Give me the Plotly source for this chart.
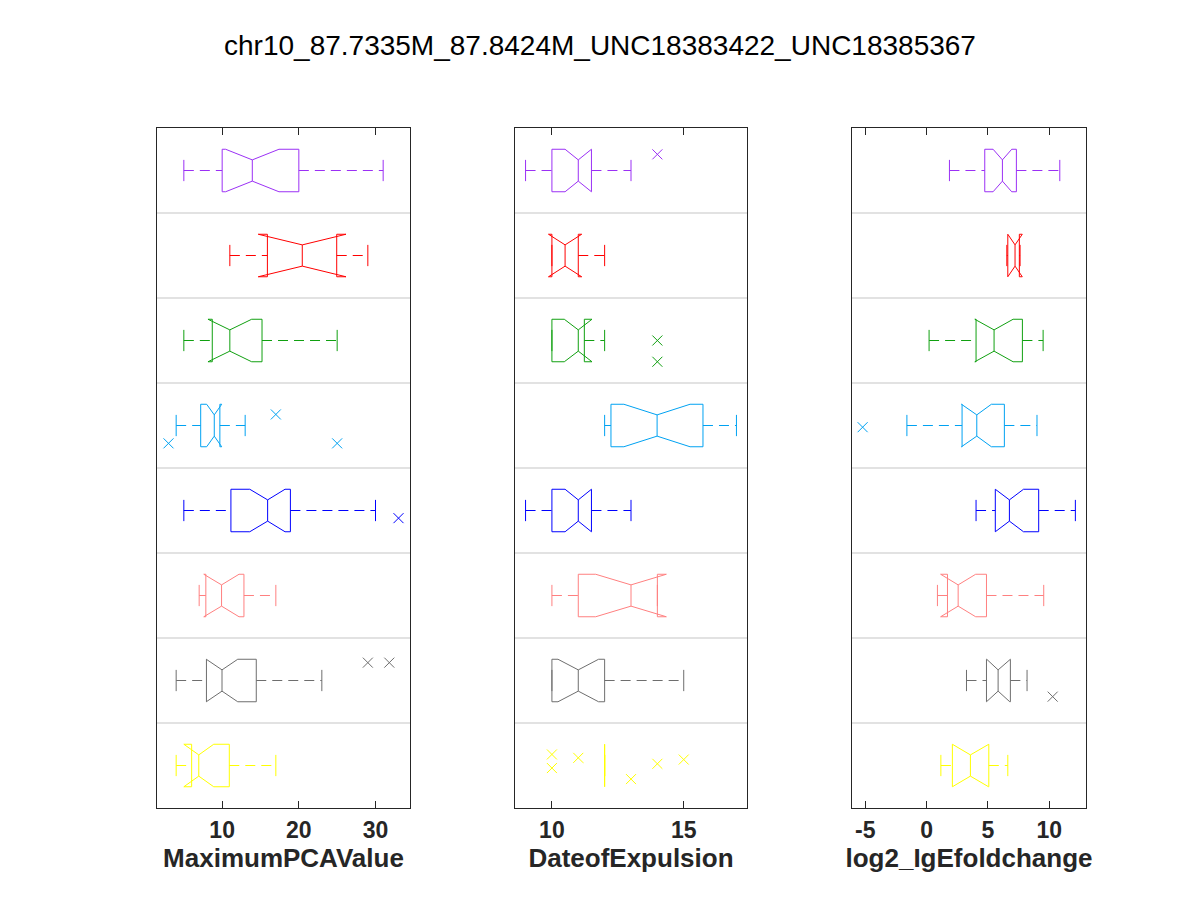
import math
import plotly.graph_objects as go

# %% data, one list per statistic, groups top to bottom
title_text = "chr10_87.7335M_87.8424M_UNC18383422_UNC18385367"
group_colors = ["#9b30f5", "#ff0000", "#10a010", "#00a2f2", "#0000ff", "#ff8080", "#6e6e6e", "#ffff00"]

# MaximumPCAValue
pca_wlo = [5, 11, 5, 4, 5, 7, 4, 4]
pca_q1 = [10, 15.9, 8.71, 7.2, 11.14, 7.87, 7.95, 6.02]
pca_nlo = [10.45, 14.71, 8.15, 7.98, 13.6, 7.6, 7.93, 5.0]
pca_med = [13.93, 20.45, 11.0, 8.97, 15.93, 9.92, 9.98, 6.95]
pca_nhi = [17.41, 26.15, 13.85, 9.94, 18.2, 12.2, 12.03, 8.9]
pca_q3 = [20, 24.94, 15.2, 9.7, 18.9, 12.84, 14.45, 10.93]
pca_whi = [31, 29, 25, 13, 30, 17, 23, 17]
pca_out_group = [4, 4, 4, 5, 7, 7]
pca_out_value = [17, 3, 25, 33, 29, 31.8]
pca_out_jitter = [-0.13, 0.21, 0.21, 0.09, -0.21, -0.21]

# DateofExpulsion
doe_wlo = [9, 10, 10, 12, 9, 10, 10, 12]
doe_q1 = [10, 10, 10, 12.24, 10, 11, 10, 12]
doe_nlo = [10.5, 9.87, 10.47, 12.73, 10.5, 11.66, 10.23, 12]
doe_med = [11, 10.5, 11, 13.99, 11, 13, 11, 12]
doe_nhi = [11.5, 11.13, 11.52, 15.24, 11.5, 14.34, 11.77, 12]
doe_q3 = [11.5, 11, 11.23, 15.73, 11.5, 14, 12, 12]
doe_whi = [13, 12, 12, 17, 13, 14, 15, 12]
doe_out_group = [1, 3, 3, 8, 8, 8, 8, 8, 8]
doe_out_value = [14, 14, 14, 10, 10, 11, 13, 14, 15]
doe_out_jitter = [-0.19, 0.0, 0.25, -0.13, 0.03, -0.09, 0.16, -0.02, -0.07]

# log2_IgEfoldchange
ige_wlo = [1.86, 6.54, 0.2, -1.61, 4.03, 0.88, 3.25, 1.16]
ige_q1 = [4.74, 6.62, 4.03, 2.89, 5.6, 1.7, 4.88, 2.1]
ige_nlo = [5.42, 6.62, 3.93, 2.84, 5.6, 1.14, 4.9, 2.1]
ige_med = [6.18, 7.21, 5.5, 4.09, 6.75, 2.57, 5.83, 3.57]
ige_nhi = [6.94, 7.8, 7.05, 5.28, 7.9, 4.0, 6.78, 5.05]
ige_q3 = [7.32, 7.56, 7.81, 6.34, 9.14, 4.88, 6.83, 5.07]
ige_whi = [10.86, 7.62, 9.5, 9.0, 12.13, 9.55, 8.19, 6.62]
ige_out_group = [4, 7]
ige_out_value = [-5.22, 10.28]
ige_out_jitter = [0.02, 0.19]

panels = [
    ("MaximumPCAValue", pca_wlo, pca_q1, pca_nlo, pca_med, pca_nhi, pca_q3, pca_whi,
     pca_out_group, pca_out_value, pca_out_jitter, 10),
    ("DateofExpulsion", doe_wlo, doe_q1, doe_nlo, doe_med, doe_nhi, doe_q3, doe_whi,
     doe_out_group, doe_out_value, doe_out_jitter, 5),
    ("log2_IgEfoldchange", ige_wlo, ige_q1, ige_nlo, ige_med, ige_nhi, ige_q3, ige_whi,
     ige_out_group, ige_out_value, ige_out_jitter, 5),
]

# %% layout constants (page body adds an 8px margin, so pixel targets are shifted by 8)
FONT = "Liberation Sans, Arial, Helvetica, sans-serif"
AXCOLOR = "#262626"
OFF = 8
x_domains = [[(157 - OFF) / 1200, (410 - OFF) / 1200],
             [(515 - OFF) / 1200, (747 - OFF) / 1200],
             [(852 - OFF) / 1200, (1086 - OFF) / 1200]]
y_domain = [1 - (808 - OFF) / 900, 1 - (128 - OFF) / 900]
W = 0.25    # box half height
CAP = 0.125  # whisker cap half length

fig = go.Figure()

for p, (label, wlo, q1, nlo, med, nhi, q3, whi, og, ov, oj, dtick) in enumerate(panels):
    xa = "x" if p == 0 else f"x{p + 1}"
    ya = "y" if p == 0 else f"y{p + 1}"
    for i in range(len(med)):
        g = i + 1
        c = group_colors[i]
        # notched box outline + median + caps
        bx = [q1[i], q1[i], nlo[i], med[i], nhi[i], q3[i], q3[i], nhi[i], med[i], nlo[i], q1[i], None,
              med[i], med[i], None, wlo[i], wlo[i], None, whi[i], whi[i]]
        by = [g + W, g - W, g - W, g - W / 2, g - W, g - W, g + W, g + W, g + W / 2, g + W, g + W, None,
              g - W / 2, g + W / 2, None, g - CAP, g + CAP, None, g - CAP, g + CAP]
        fig.add_trace(go.Scatter(x=bx, y=by, mode="lines", line=dict(color=c, width=1),
                                 xaxis=xa, yaxis=ya, showlegend=False, hoverinfo="skip"))
        # dashed whiskers
        wx = [wlo[i], q1[i], None, q3[i], whi[i]]
        wy = [g, g, None, g, g]
        fig.add_trace(go.Scatter(x=wx, y=wy, mode="lines", line=dict(color=c, width=1, dash="10px,6px"),
                                 xaxis=xa, yaxis=ya, showlegend=False, hoverinfo="skip"))
    # outliers
    fig.add_trace(go.Scatter(
        x=ov, y=[g + j for g, j in zip(og, oj)], mode="markers",
        marker=dict(symbol="x-thin", size=10, line=dict(width=1, color=[group_colors[g - 1] for g in og])),
        xaxis=xa, yaxis=ya, showlegend=False, hoverinfo="skip"))

    lo = min(min(wlo), min(ov))
    hi = max(max(whi), max(ov))
    pad = 0.05 * (hi - lo)
    rng = [lo - pad, hi + pad]
    tickvals = [k * dtick for k in range(math.ceil(rng[0] / dtick), math.floor(rng[1] / dtick) + 1)]
    ticktext = [f"{v:g}" for v in tickvals]  # plain hyphen for negatives, like the reference
    key = "" if p == 0 else str(p + 1)
    fig.update_layout(**{
        f"xaxis{key}": dict(
            domain=x_domains[p], anchor=ya, range=rng, tickvals=tickvals, ticktext=ticktext,
            showgrid=False, zeroline=False, showline=True, mirror="ticks", linecolor=AXCOLOR, linewidth=1,
            ticks="inside", ticklen=7, tickcolor=AXCOLOR, ticklabelstandoff=1,
            tickfont=dict(family=FONT, size=23, color=AXCOLOR, weight="bold"),
            title=dict(text=label, standoff=1, font=dict(family=FONT, size=26, color=AXCOLOR, weight="bold")),
        ),
        f"yaxis{key}": dict(
            domain=y_domain, anchor=xa, range=[8.5, 0.5], showticklabels=False, ticks="",
            showgrid=False, zeroline=False, showline=True, mirror=True, linecolor=AXCOLOR, linewidth=1,
        ),
    })
    # group separators
    for k in range(1, len(med)):
        fig.add_shape(type="line", xref=f"{xa} domain", yref=ya, x0=0, x1=1, y0=k + 0.5, y1=k + 0.5,
                      line=dict(color="#d9d9d9", width=1.5), layer="below")

fig.update_layout(
    width=1200, height=900,
    margin=dict(l=0, r=0, t=0, b=0),
    paper_bgcolor="white", plot_bgcolor="white",
    title=dict(text=title_text, x=(600 - OFF) / 1200, xanchor="center", y=1 - (45 - OFF) / 900, yanchor="middle",
               font=dict(family=FONT, size=28, color="black")),
)

fig.write_html("out.html")
